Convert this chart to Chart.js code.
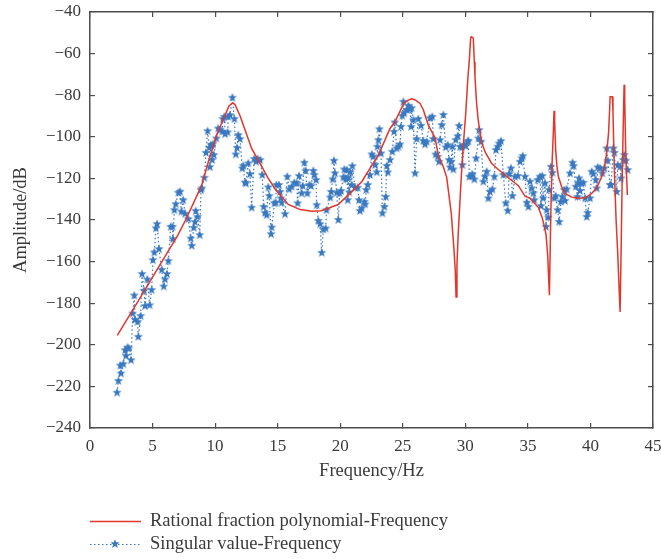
<!DOCTYPE html>
<html>
<head>
<meta charset="utf-8">
<script src="https://cdn.jsdelivr.net/npm/chart.js@4.4.1/dist/chart.umd.min.js"></script>
<style>
  html, body { margin: 0; padding: 0; background: #fff; }
  #wrap { width: 661px; height: 559px; }
</style>
</head>
<body>
<div id="wrap"><canvas id="freqChart" width="661" height="559"></canvas></div>
<script>
// rational fraction polynomial fit (red)
const rfFreq = [2.18, 3.5, 5.0, 6.3, 7.0, 7.6, 8.3, 8.93, 9.46, 10.13, 10.79, 11.1, 11.4, 11.59, 12.0, 12.5, 12.92, 13.59, 14.2, 14.85,
  15.85, 16.8, 17.72, 18.5, 19.2, 19.85, 20.78, 21.72, 22.38, 23.05, 23.98, 24.38, 25.05, 25.4, 25.71, 26.0, 26.38, 26.64, 27.04, 27.58,
  27.84, 28.24, 28.51, 28.88, 29.1, 29.2, 29.26, 29.33, 29.42, 29.66, 29.85, 30.03, 30.2, 30.32, 30.42, 30.46, 30.6, 30.64, 30.72, 30.77,
  30.9, 31.05, 31.31, 31.6, 32.11, 32.5, 33.17, 33.84, 34.24, 34.77, 35.17, 35.84, 36.15, 36.32, 36.45, 36.59, 36.66, 36.72, 36.78, 36.85,
  36.95, 37.04, 37.09, 37.14, 37.22, 37.32, 37.44, 37.7, 37.97, 38.5, 39.03, 39.6, 40.1, 40.5, 40.9, 41.1, 41.3, 41.45, 41.54, 41.57,
  41.75, 41.8, 41.91, 42.05, 42.18, 42.3, 42.37, 42.45, 42.55, 42.63, 42.69, 42.74, 42.82, 42.95];
const rfAmp = [-195.5, -182.5, -167.5, -154.5, -147.5, -140.5, -131.5, -123.2, -112, -99, -89.6, -85.3, -83.6, -84.5, -90, -98.5, -105.6, -112.8, -119.5, -125.6,
  -132.5, -135, -135.8, -135.5, -134, -132.5, -127.2, -121.6, -115.2, -108.8, -96, -92.8, -84.2, -82.5, -81.7, -82.3, -84, -87, -94.4, -100.5,
  -108.8, -114.4, -119.5, -137, -155, -165, -177, -162, -148, -121, -103, -89, -72, -63, -53, -51.9, -52.3, -53, -64, -71,
  -84, -93, -103, -107.5, -112.8, -115, -118.4, -121.6, -123.5, -128.5, -129.5, -134, -139, -143.3, -147, -157.7, -168, -176.2, -155, -132,
  -110, -96.8, -87.5, -93, -106.4, -114, -119.2, -124, -127.2, -129, -129.5, -129.3, -127.2, -124.5, -119.2, -115, -108, -98, -86, -80.7,
  -80.7, -88, -116, -140, -156, -174, -184.2, -155, -116, -92, -75, -82, -108, -128];

// singular value (blue stars)
const svFreq = [2.16, 2.27, 2.42, 2.48, 2.66, 2.8, 2.88, 3.0, 3.1, 3.28, 3.41, 3.54, 3.6, 3.8, 3.86, 4.05, 4.16, 4.32, 4.4, 4.58,
  4.77, 4.93, 5.03, 5.14, 5.27, 5.36, 5.52, 5.73, 5.89, 6.0, 6.15, 6.26, 6.45, 6.6, 6.63, 6.74, 6.85, 7.06, 7.2, 7.3,
  7.45, 7.6, 7.86, 8.05, 8.13, 8.29, 8.39, 8.45, 8.6, 8.77, 8.87, 8.93, 9.14, 9.27, 9.4, 9.53, 9.58, 9.67, 9.77, 9.82,
  9.9, 10.1, 10.25, 10.4, 10.58, 10.62, 10.74, 10.8, 11.0, 11.05, 11.19, 11.38, 11.54, 11.65, 11.75, 11.85, 11.99, 12.17, 12.25, 12.39,
  12.47, 12.65, 12.79, 12.92, 13.13, 13.27, 13.4, 13.6, 13.77, 13.88, 13.99, 14.12, 14.25, 14.33, 14.47, 14.52, 14.74, 14.84, 14.9, 15.1,
  15.19, 15.25, 15.32, 15.59, 15.77, 15.93, 16.12, 16.33, 16.52, 16.6, 16.71, 16.92, 17.0, 17.13, 17.24, 17.37, 17.53, 17.67, 17.85, 17.93,
  18.07, 18.12, 18.25, 18.39, 18.52, 18.65, 18.84, 18.9, 19.2, 19.27, 19.4, 19.5, 19.58, 19.72, 19.85, 19.95, 20.06, 20.25, 20.33, 20.44,
  20.52, 20.6, 20.65, 20.72, 20.8, 20.92, 20.97, 21.18, 21.4, 21.5, 21.58, 21.72, 21.93, 22.0, 22.08, 22.2, 22.38, 22.52, 22.65, 22.78,
  22.92, 22.97, 23.05, 23.13, 23.26, 23.37, 23.53, 23.64, 23.72, 23.8, 23.98, 24.16, 24.3, 24.36, 24.51, 24.65, 24.78, 24.86, 24.96, 25.05,
  25.12, 25.32, 25.45, 25.58, 25.66, 25.71, 25.85, 25.98, 26.11, 26.24, 26.46, 26.64, 26.78, 26.91, 27.18, 27.36, 27.44, 27.63, 27.79, 27.9,
  27.98, 28.11, 28.24, 28.43, 28.59, 28.7, 28.78, 28.86, 28.96, 29.04, 29.23, 29.39, 29.5, 29.58, 29.71, 29.76, 29.92, 30.03, 30.19, 30.24,
  30.32, 30.51, 30.56, 30.72, 30.86, 31.04, 31.1, 31.26, 31.44, 31.57, 31.71, 31.84, 31.97, 32.16, 32.32, 32.45, 32.59, 32.7, 32.85, 33.04,
  33.23, 33.39, 33.5, 33.65, 33.76, 33.97, 34.19, 34.37, 34.51, 34.59, 34.77, 34.91, 35.04, 35.17, 35.31, 35.43, 35.51, 35.78, 35.97, 36.05,
  36.15, 36.22, 36.37, 36.45, 36.5, 36.63, 36.69, 36.85, 36.96, 37.11, 37.22, 37.38, 37.5, 37.63, 37.75, 37.91, 37.97, 38.1, 38.37, 38.57,
  38.66, 38.83, 38.97, 39.02, 39.09, 39.17, 39.25, 39.43, 39.57, 39.7, 39.78, 39.97, 40.1, 40.23, 40.42, 40.5, 40.58, 40.77, 40.95, 41.11,
  41.3, 41.38, 41.57, 41.65, 41.83, 41.91, 42.1, 42.18, 42.37, 42.45, 42.63, 42.71, 42.82, 42.98];
const svAmp = [-223, -217.4, -210, -213.8, -209.3, -202.6, -205.3, -201.3, -201.8, -207.4, -185, -176.3, -188, -189, -196.2, -186.2, -166, -174, -181.4, -168.6,
  -181, -173.7, -159.3, -155.6, -144, -142, -154, -164, -172, -168.6, -166, -159.8, -143.3, -143.3, -149.2, -135.3, -132.4, -126.9, -126.4, -136,
  -130.5, -137, -139.6, -148.9, -152.4, -143.8, -141, -135.7, -138.5, -147.3, -125.6, -124.8, -119.7, -107.7, -97.3, -105.3, -114.6, -104, -111.2, -103.7,
  -108.8, -100.8, -96, -96.8, -97.6, -91.5, -90.4, -98.7, -97.9, -90.4, -89.6, -81.2, -91.5, -108.5, -105.3, -99.2, -101.1, -115.2, -114, -122,
  -122.4, -112.8, -118, -134.1, -110.7, -112, -110.7, -111.2, -118.4, -133.7, -136.6, -137.7, -124.3, -128.5, -146.8, -143.6, -132, -131.7, -123.2, -123.2,
  -126.5, -129.6, -131.7, -137.2, -119.2, -125.3, -124, -122.1, -122.4, -132, -118.9, -127.2, -123.7, -112.5, -116.4, -127.2, -123.2, -123.7, -116.4, -118.4,
  -120.8, -132.9, -140.4, -142, -155.8, -144.6, -144.1, -135.3, -129.2, -126.5, -120.5, -111.5, -117.6, -126.9, -140, -127.2, -126, -119.5, -115.7, -120.5,
  -116, -130.5, -119.7, -126.7, -117.1, -123.2, -114.1, -124.5, -124.5, -130.5, -135.7, -134.5, -131.3, -132.5, -125.6, -123.2, -118.4, -108.5, -109.6, -113.6,
  -117.1, -104.8, -101.6, -96.4, -108, -136.8, -133.7, -128.9, -114, -117.1, -111.2, -107.2, -97.6, -93.1, -105.6, -104.8, -103.7, -95.2, -89.9, -83.2,
  -88.7, -87.1, -85.1, -86.7, -95.2, -86.3, -92, -117.6, -101.1, -91.5, -94.7, -102, -103.7, -102.4, -91.1, -90.4, -101.1, -108.5, -109.6, -112,
  -101.6, -94.4, -89.5, -105.1, -104, -111.2, -114.7, -112, -104.8, -115.7, -101.6, -99.7, -94.8, -104.8, -105.1, -113.6, -104, -104.5, -102.4, -101.9,
  -119.2, -118.9, -118, -120.5, -110.4, -100.8, -96.8, -102.4, -121.6, -119.2, -116.8, -129.6, -126.5, -125.3, -119.2, -106.4, -104.8, -103.2, -102.1, -118.4,
  -132, -135.6, -117.9, -115.2, -128.5, -119.2, -118.9, -112, -110.4, -109.3, -119.2, -131.7, -133.7, -121.6, -124.8, -127.2, -130.5, -120.8, -119.2, -133.3,
  -118.9, -129.6, -122.4, -143.3, -135.3, -138.8, -125.6, -114.4, -117.3, -129.6, -128.5, -135.3, -140.9, -131.3, -128.9, -125.6, -130.8, -125.3, -117.6, -112.5,
  -114.1, -124, -128.9, -122.4, -120, -126, -122.4, -122.1, -129.6, -138.5, -136.6, -129.6, -116.8, -117.9, -120.8, -124.8, -114.7, -115.2, -117.6, -115.2,
  -105.6, -111.5, -123.2, -123.2, -105.6, -107.7, -126.5, -113.6, -114.4, -120, -111.2, -108.8, -111.5, -116];

const seriesNames = ['Rational fraction polynomial-Frequency', 'Singular value-Frequency'];
const xTicks = [0, 5, 10, 15, 20, 25, 30, 35, 40, 45];
const yTicks = [-240, -220, -200, -180, -160, -140, -120, -100, -80, -60, -40];

const red = '#e2362a';
const blue = '#3a79c0';
const axisColor = '#4d4d4d';
const textColor = '#3a3a3a';
const serif = "'Liberation Serif', 'Times New Roman', serif";

// filled five point star used as the marker
function makeStar(r, color) {
  const size = Math.ceil(r * 2) + 2;
  const c = document.createElement('canvas');
  c.width = size; c.height = size;
  const g = c.getContext('2d');
  g.fillStyle = color;
  g.beginPath();
  for (let i = 0; i < 10; i++) {
    const rad = i % 2 === 0 ? r : r * 0.42;
    const a = -Math.PI / 2 + i * Math.PI / 5;
    const px = size / 2 + rad * Math.cos(a);
    const py = size / 2 + rad * Math.sin(a);
    if (i === 0) g.moveTo(px, py); else g.lineTo(px, py);
  }
  g.closePath();
  g.fill();
  return c;
}
const star = makeStar(4.8, blue);

const minus = v => String(v).replace('-', '\u2212');

// fixed box sizes, and no extra room for overhanging labels
function fixBox(w, h) {
  return s => {
    if (w !== null) s.width = w;
    if (h !== null) s.height = h;
    s.paddingLeft = 0; s.paddingRight = 0; s.paddingTop = 0; s.paddingBottom = 0;
  };
}

// legend drawn below the axes, two stacked rows
const legendRows = {
  id: 'legendRows',
  afterDraw(chart) {
    const ctx = chart.ctx;
    ctx.save();
    ctx.font = '18.5px ' + serif;
    ctx.fillStyle = textColor;
    ctx.textBaseline = 'middle';
    ctx.textAlign = 'left';

    ctx.strokeStyle = red;
    ctx.lineWidth = 1.5;
    ctx.beginPath();
    ctx.moveTo(90, 521.5);
    ctx.lineTo(141, 521.5);
    ctx.stroke();
    ctx.fillText(seriesNames[0], 150, 521);

    ctx.strokeStyle = blue;
    ctx.lineWidth = 1.2;
    ctx.setLineDash([1.5, 2.5]);
    ctx.beginPath();
    ctx.moveTo(90, 544.5);
    ctx.lineTo(141, 544.5);
    ctx.stroke();
    ctx.setLineDash([]);
    ctx.drawImage(star, 115 - star.width / 2, 544 - star.height / 2);
    ctx.fillText(seriesNames[1], 150, 544);
    ctx.restore();
  }
};

const gridOpts = { drawOnChartArea: false, drawTicks: true, tickLength: -5, color: axisColor, lineWidth: 1.2 };
const borderOpts = { color: axisColor, width: 1.5 };

const ctx = document.getElementById('freqChart').getContext('2d');
new Chart(ctx, {
  type: 'line',
  data: {
    datasets: [
      {
        label: seriesNames[0],
        data: rfFreq.map((f, i) => ({ x: f, y: rfAmp[i] })),
        borderColor: red,
        borderWidth: 1.5,
        pointRadius: 0,
        tension: 0,
        fill: false
      },
      {
        label: seriesNames[1],
        data: svFreq.map((f, i) => ({ x: f, y: svAmp[i] })),
        borderColor: blue,
        borderWidth: 1.2,
        borderDash: [1.5, 2.5],
        pointStyle: star,
        pointRadius: 4,
        tension: 0,
        fill: false
      }
    ]
  },
  options: {
    responsive: false,
    animation: false,
    layout: { autoPadding: false, padding: { left: 0, right: 8, top: 12, bottom: 77 } },
    plugins: {
      legend: { display: false },
      tooltip: { enabled: false }
    },
    scales: {
      x: {
        type: 'linear',
        position: 'bottom',
        min: 0,
        max: 45,
        afterBuildTicks: s => { s.ticks = xTicks.map(v => ({ value: v })); },
        afterFit: fixBox(null, 54),
        border: borderOpts,
        grid: gridOpts,
        ticks: { color: textColor, font: { family: serif, size: 17 }, padding: 13, maxRotation: 0 },
        title: { display: true, text: 'Frequency/Hz', color: textColor, font: { family: serif, size: 18.5 }, padding: { top: 0, bottom: 0 } }
      },
      x2: {
        type: 'linear',
        position: 'top',
        min: 0,
        max: 45,
        afterBuildTicks: s => { s.ticks = xTicks.map(v => ({ value: v })); },
        afterFit: fixBox(null, 0),
        border: borderOpts,
        grid: gridOpts,
        ticks: { display: false }
      },
      y: {
        type: 'linear',
        position: 'left',
        min: -240,
        max: -40,
        afterBuildTicks: s => { s.ticks = yTicks.map(v => ({ value: v })); },
        afterFit: fixBox(90, null),
        border: borderOpts,
        grid: gridOpts,
        ticks: { color: textColor, font: { family: serif, size: 17 }, padding: 14, callback: v => minus(v) },
        title: { display: true, text: 'Amplitude/dB', color: textColor, font: { family: serif, size: 18.5 }, padding: { top: 10, bottom: 0 } }
      },
      y2: {
        type: 'linear',
        position: 'right',
        min: -240,
        max: -40,
        afterBuildTicks: s => { s.ticks = yTicks.map(v => ({ value: v })); },
        afterFit: fixBox(0, null),
        border: borderOpts,
        grid: gridOpts,
        ticks: { display: false }
      }
    }
  },
  plugins: [legendRows]
});
</script>
</body>
</html>
